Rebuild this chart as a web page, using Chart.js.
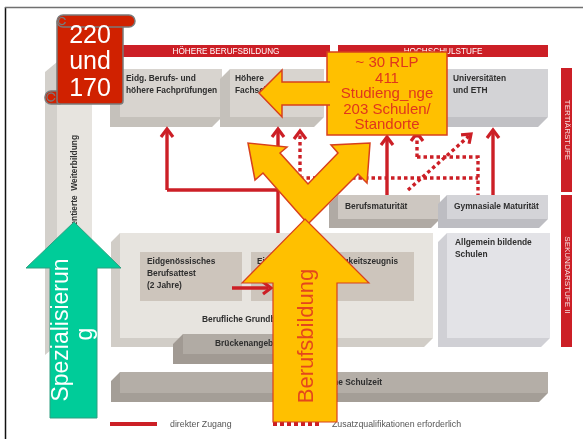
<!DOCTYPE html>
<html>
<head>
<meta charset="utf-8">
<script src="https://cdn.jsdelivr.net/npm/chart.js@4.4.1/dist/chart.umd.min.js"></script>
<style>
  html, body { margin: 0; padding: 0; background: #fff; }
  #wrap { width: 583px; height: 439px; }
</style>
</head>
<body>
<div id="wrap"><canvas id="chart" width="583" height="439"></canvas></div>
<script>
const RED = '#cc1f26';
const YELLOW = '#ffc000';
const YELLOW_EDGE = '#d8401c';
const LABEL_FONT = 'bold 8.4px "Liberation Sans", Arial, sans-serif';

// 3D blocks: front face [x0, y0, x1, y1] in slide units
const blockRects = [
  [120, 69, 222, 117],   // Eidg. Berufs- und höhere Fachprüfungen
  [230, 69, 324, 117],   // Höhere Fachschulen
  [345, 69, 548, 117],   // Universitäten und ETH
  [338, 195, 440, 219],  // Berufsmaturität
  [447, 195, 548, 219],  // Gymnasiale Maturität
  [120, 233, 433, 338],  // Berufliche Grundbildung
  [447, 233, 550, 338],  // Allgemein bildende Schulen
  [183, 334, 300, 354],  // Brückenangebote
  [120, 372, 548, 393]   // Obligatorische Schulzeit
];
const blockDepth = [10, 10, 10, 9, 9, 9, 9, 10, 9];
const blockTone = ['warm', 'warm', 'cool', 'bm', 'gym', 'grund', 'allg', 'brueck', 'schul'];
const blockLabels = [
  ['Eidg. Berufs- und', 'höhere Fachprüfungen'],
  ['Höhere', 'Fachschulen'],
  ['Universitäten', 'und ETH'],
  ['Berufsmaturität'],
  ['Gymnasiale Maturität'],
  ['Berufliche Grundbildung'],
  ['Allgemein bildende', 'Schulen'],
  ['Brückenangebote'],
  ['Obligatorische Schulzeit']
];
const labelAnchors = [[126, 79], [235, 79], [453, 79], [345, 207], [454, 207], [202, 320], [455, 243], [215, 344], [382, 383]];
const labelAlign = ['left', 'left', 'left', 'left', 'left', 'left', 'left', 'left', 'right'];

// flat panes inside the Grundbildung block
const paneRects = [[140, 252, 242, 301], [251, 252, 414, 301]];
const paneLabels = [['Eidgenössisches', 'Berufsattest', '(2 Jahre)'], ['Eidgenössisches Fähigkeitszeugnis']];
const paneAnchors = [[147, 262], [257, 262]];

// red access lines
const solidPaths = [
  [[167, 190], [167, 131]],
  [[167, 190], [278, 190]],
  [[278, 233], [278, 131]],
  [[387, 195], [387, 139]],
  [[493, 195], [493, 132]],
  [[232, 288], [268, 288]]
];
const dottedPaths = [
  [[300, 178], [300, 134]],
  [[300, 178], [478, 178]],
  [[417, 157], [417, 136]],
  [[417, 157], [478, 157], [478, 195]],
  [[408, 190], [469, 136]]
];
const headTips = [[167, 129], [278, 129], [300, 131], [387, 137], [417, 133], [493, 130], [471, 134], [271, 288]];
const headAngles = [-90, -90, -90, -90, -90, -90, -42, 0];

// legend
const legendSolid = [[110, 424], [157, 424]];
const legendDotted = [[273, 424], [320, 424]];
const legendTexts = ['direkter Zugang', 'Zusatzqualifikationen erforderlich'];
const legendTextX = [170, 332];

// header bars and side bars
const headerRects = [[122, 45, 330, 57], [338, 45, 548, 57]];
const headerTexts = ['HÖHERE BERUFSBILDUNG', 'HOCHSCHULSTUFE'];
const sideRects = [[561, 68, 572, 192], [561, 195, 572, 347]];
const sideTexts = ['TERTIÄRSTUFE', 'SEKUNDARSTUFE II'];

// overlay callouts
const scrollLines = ['220', 'und', '170'];
const boxLines = ['~ 30 RLP', '411', 'Studieng_nge', '203 Schulen/', 'Standorte'];
const calloutRect = [327, 52, 447, 135];
const leftArrow = [[259, 93], [282, 70], [282, 82], [330, 82], [330, 105], [282, 105], [282, 117]];
const splitArrow = [[308, 224], [263, 173], [255, 180], [248, 143], [287, 147], [280, 153], [308, 184],
  [338, 153], [331, 145], [370, 143], [367, 183], [358, 174]];
const upArrow = [[305, 219], [369, 283], [337, 283], [337, 422], [273, 422], [273, 283], [242, 283]];
const greenArrow = [[74, 222], [121, 268], [97, 268], [97, 418], [50, 418], [50, 268], [26, 268]];

const tones = {
  warm:   { front: '#d8d4cf', side: '#c5c1bb' },
  cool:   { front: '#d3d3d6', side: '#c1c1c5' },
  bm:     { front: '#cdc7c1', side: '#b0aaa4' },
  gym:    { front: '#d4d4d8', side: '#bdbdc2' },
  grund:  { front: '#e7e4df', side: '#d1cdc7' },
  allg:   { front: '#e3e3e7', side: '#d0d0d5' },
  brueck: { front: '#b1aba4', side: '#a19a93' },
  schul:  { front: '#b4aea7', side: '#a49e97' }
};

function pt(chart, p) {
  return [chart.scales.x.getPixelForValue(p[0]), chart.scales.y.getPixelForValue(p[1])];
}

function poly(chart, pts, fill, stroke, lw) {
  const ctx = chart.ctx;
  ctx.beginPath();
  pts.forEach((p, i) => {
    const [x, y] = pt(chart, p);
    if (i === 0) ctx.moveTo(x, y); else ctx.lineTo(x, y);
  });
  ctx.closePath();
  if (fill) { ctx.fillStyle = fill; ctx.fill(); }
  if (stroke) { ctx.strokeStyle = stroke; ctx.lineWidth = lw || 1; ctx.lineJoin = 'miter'; ctx.stroke(); }
}

function rect(chart, r, fill) {
  poly(chart, [[r[0], r[1]], [r[2], r[1]], [r[2], r[3]], [r[0], r[3]]], fill);
}

function text(chart, str, p, font, color, align, angle, maxW) {
  const ctx = chart.ctx;
  const [x, y] = pt(chart, p);
  ctx.save();
  ctx.translate(x, y);
  if (angle) ctx.rotate(angle * Math.PI / 180);
  ctx.font = font;
  ctx.fillStyle = color;
  ctx.textAlign = align || 'left';
  ctx.textBaseline = 'middle';
  if (maxW) ctx.fillText(str, 0, 0, maxW); else ctx.fillText(str, 0, 0);
  ctx.restore();
}

function roundBox(chart, x0, y0, x1, y1, r, fill, stroke) {
  const ctx = chart.ctx;
  const [a, b] = pt(chart, [x0, y0]);
  const [c, d] = pt(chart, [x1, y1]);
  ctx.beginPath();
  ctx.moveTo(a + r, b);
  ctx.arcTo(c, b, c, d, r);
  ctx.arcTo(c, d, a, d, r);
  ctx.arcTo(a, d, a, b, r);
  ctx.arcTo(a, b, c, b, r);
  ctx.closePath();
  ctx.fillStyle = fill; ctx.fill();
  ctx.strokeStyle = stroke; ctx.lineWidth = 1.5; ctx.stroke();
}

function drawBack(chart) {
  // Weiterbildung column
  poly(chart, [[57, 62], [45, 72], [45, 355], [57, 345]], '#d3d0cb');
  rect(chart, [57, 62, 92, 345], '#e7e4df');
  text(chart, 'Berufsorientierte  Weiterbildung', [75, 135], LABEL_FONT, '#333', 'right', -90);

  headerRects.forEach((r, i) => {
    rect(chart, r, RED);
    text(chart, headerTexts[i], [(r[0] + r[2]) / 2, 51.5], '8.2px "Liberation Sans", Arial, sans-serif', '#fff', 'center');
  });

  blockRects.forEach((r, i) => {
    const d = blockDepth[i];
    const t = tones[blockTone[i]];
    poly(chart, [[r[0], r[1]], [r[0] - d, r[1] + d], [r[0] - d, r[3] + d], [r[2] - d, r[3] + d], [r[2], r[3]], [r[0], r[3]]], t.side);
    rect(chart, r, t.front);
  });

  paneRects.forEach(r => rect(chart, r, '#cdc5bc'));

  blockLabels.forEach((lines, i) => {
    lines.forEach((s, j) => {
      text(chart, s, [labelAnchors[i][0], labelAnchors[i][1] + j * 12], LABEL_FONT, '#2e2e2e', labelAlign[i]);
    });
  });
  paneLabels.forEach((lines, i) => {
    lines.forEach((s, j) => {
      text(chart, s, [paneAnchors[i][0], paneAnchors[i][1] + j * 12], LABEL_FONT, '#2e2e2e', 'left', 0, i === 1 ? 141 : 0);
    });
  });
}

function drawFront(chart) {
  const ctx = chart.ctx;

  // arrow heads of the access lines
  headTips.forEach((p, i) => {
    const a = headAngles[i] * Math.PI / 180;
    const c = Math.cos(a), s = Math.sin(a);
    const w1 = [p[0] - 8 * c - 6 * s, p[1] - 8 * s + 6 * c];
    const w2 = [p[0] - 8 * c + 6 * s, p[1] - 8 * s - 6 * c];
    const q = [w1, p, w2].map(v => pt(chart, v));
    ctx.beginPath();
    ctx.moveTo(q[0][0], q[0][1]); ctx.lineTo(q[1][0], q[1][1]); ctx.lineTo(q[2][0], q[2][1]);
    ctx.strokeStyle = RED; ctx.lineWidth = 3.2; ctx.lineJoin = 'miter'; ctx.lineCap = 'butt';
    ctx.stroke();
  });

  legendTexts.forEach((s, i) => {
    text(chart, s, [legendTextX[i], 425], '8.8px "Liberation Sans", Arial, sans-serif', '#555', 'left');
  });

  sideRects.forEach((r, i) => {
    rect(chart, r, RED);
    text(chart, sideTexts[i], [(r[0] + r[2]) / 2 + 0.5, (r[1] + r[3]) / 2 + (i ? 4 : 0)], '8px "Liberation Sans", Arial, sans-serif', 'rgba(255,255,255,0.85)', 'center', 90);
  });

  // scroll with the numbers
  const scrollRed = '#d02100', scrollEdge = '#7a7a7a';
  roundBox(chart, 45, 91, 64, 104, 6, scrollRed, scrollEdge);
  roundBox(chart, 57, 20, 123, 104, 3, scrollRed, scrollEdge);
  roundBox(chart, 57, 15, 135, 27, 6, scrollRed, scrollEdge);
  [[62, 21, 3.5], [51, 97, 4]].forEach(c => {
    const [x, y] = pt(chart, c);
    ctx.beginPath(); ctx.arc(x, y, c[2], 0.3, Math.PI * 1.9);
    ctx.strokeStyle = scrollEdge; ctx.lineWidth = 1.3; ctx.stroke();
  });
  scrollLines.forEach((s, i) => {
    text(chart, s, [90, 36 + i * 26.5], '25px "Liberation Sans", Arial, sans-serif', '#fff', 'center');
  });

  // callout box with the left arrow
  rect(chart, calloutRect, YELLOW);
  poly(chart, [[calloutRect[0], calloutRect[1]], [calloutRect[2], calloutRect[1]], [calloutRect[2], calloutRect[3]], [calloutRect[0], calloutRect[3]]], null, YELLOW_EDGE, 1.5);
  poly(chart, leftArrow, YELLOW);
  ctx.beginPath();
  [leftArrow[3], leftArrow[2], leftArrow[1], leftArrow[0], leftArrow[6], leftArrow[5], leftArrow[4]].forEach((p, i) => {
    const [x, y] = pt(chart, p);
    if (i === 0) ctx.moveTo(x, y); else ctx.lineTo(x, y);
  });
  ctx.strokeStyle = YELLOW_EDGE; ctx.lineWidth = 1.5; ctx.stroke();
  // cover the box edge where the shaft enters
  rect(chart, [326, 83, 329, 104], YELLOW);
  boxLines.forEach((s, i) => {
    text(chart, s, [387, 63 + i * 15.5], '15px "Liberation Sans Narrow", "Liberation Sans", Arial, sans-serif', '#e0361c', 'center');
  });

  poly(chart, splitArrow, YELLOW, YELLOW_EDGE, 1.5);
  poly(chart, upArrow, YELLOW, YELLOW_EDGE, 1.2);
  text(chart, 'Berufsbildung', [307, 336], '22px "Liberation Sans", Arial, sans-serif', '#e4471c', 'center', -90);

  poly(chart, greenArrow, '#00cc99', '#2f9f80', 1);
  text(chart, 'Spezialisierun', [62, 330], '23px "Liberation Sans", Arial, sans-serif', '#fff', 'center', -90);
  text(chart, 'g', [86, 334], '23px "Liberation Sans", Arial, sans-serif', '#fff', 'center', -90);
}

const scenePlugin = {
  id: 'scene',
  beforeDatasetsDraw(chart) { drawBack(chart); },
  afterDatasetsDraw(chart) { drawFront(chart); }
};

function lineSet(path, color, width, dash) {
  return {
    data: path.map(p => ({ x: p[0], y: p[1] })),
    showLine: true,
    borderColor: color,
    borderWidth: width,
    borderDash: dash || [],
    borderCapStyle: 'butt',
    pointRadius: 0,
    fill: false,
    tension: 0,
    clip: false
  };
}

const datasets = [
  lineSet([[5, 7.5], [583, 7.5]], '#707070', 1.5),
  lineSet([[5.5, 7], [5.5, 439]], '#111', 1.5)
]
  .concat(solidPaths.map(p => lineSet(p, RED, 3.4)))
  .concat(dottedPaths.map(p => lineSet(p, RED, 3.4, [3.5, 3])))
  .concat([lineSet(legendSolid, RED, 4), lineSet(legendDotted, RED, 4, [4, 3])]);

new Chart(document.getElementById('chart').getContext('2d'), {
  type: 'scatter',
  data: { datasets: datasets },
  options: {
    responsive: false,
    animation: false,
    devicePixelRatio: 1,
    layout: { padding: 0 },
    plugins: { legend: { display: false }, tooltip: { enabled: false } },
    scales: {
      x: { type: 'linear', min: 0, max: 583, display: false },
      y: { type: 'linear', min: 0, max: 439, reverse: true, display: false }
    }
  },
  plugins: [scenePlugin]
});
</script>
</body>
</html>
